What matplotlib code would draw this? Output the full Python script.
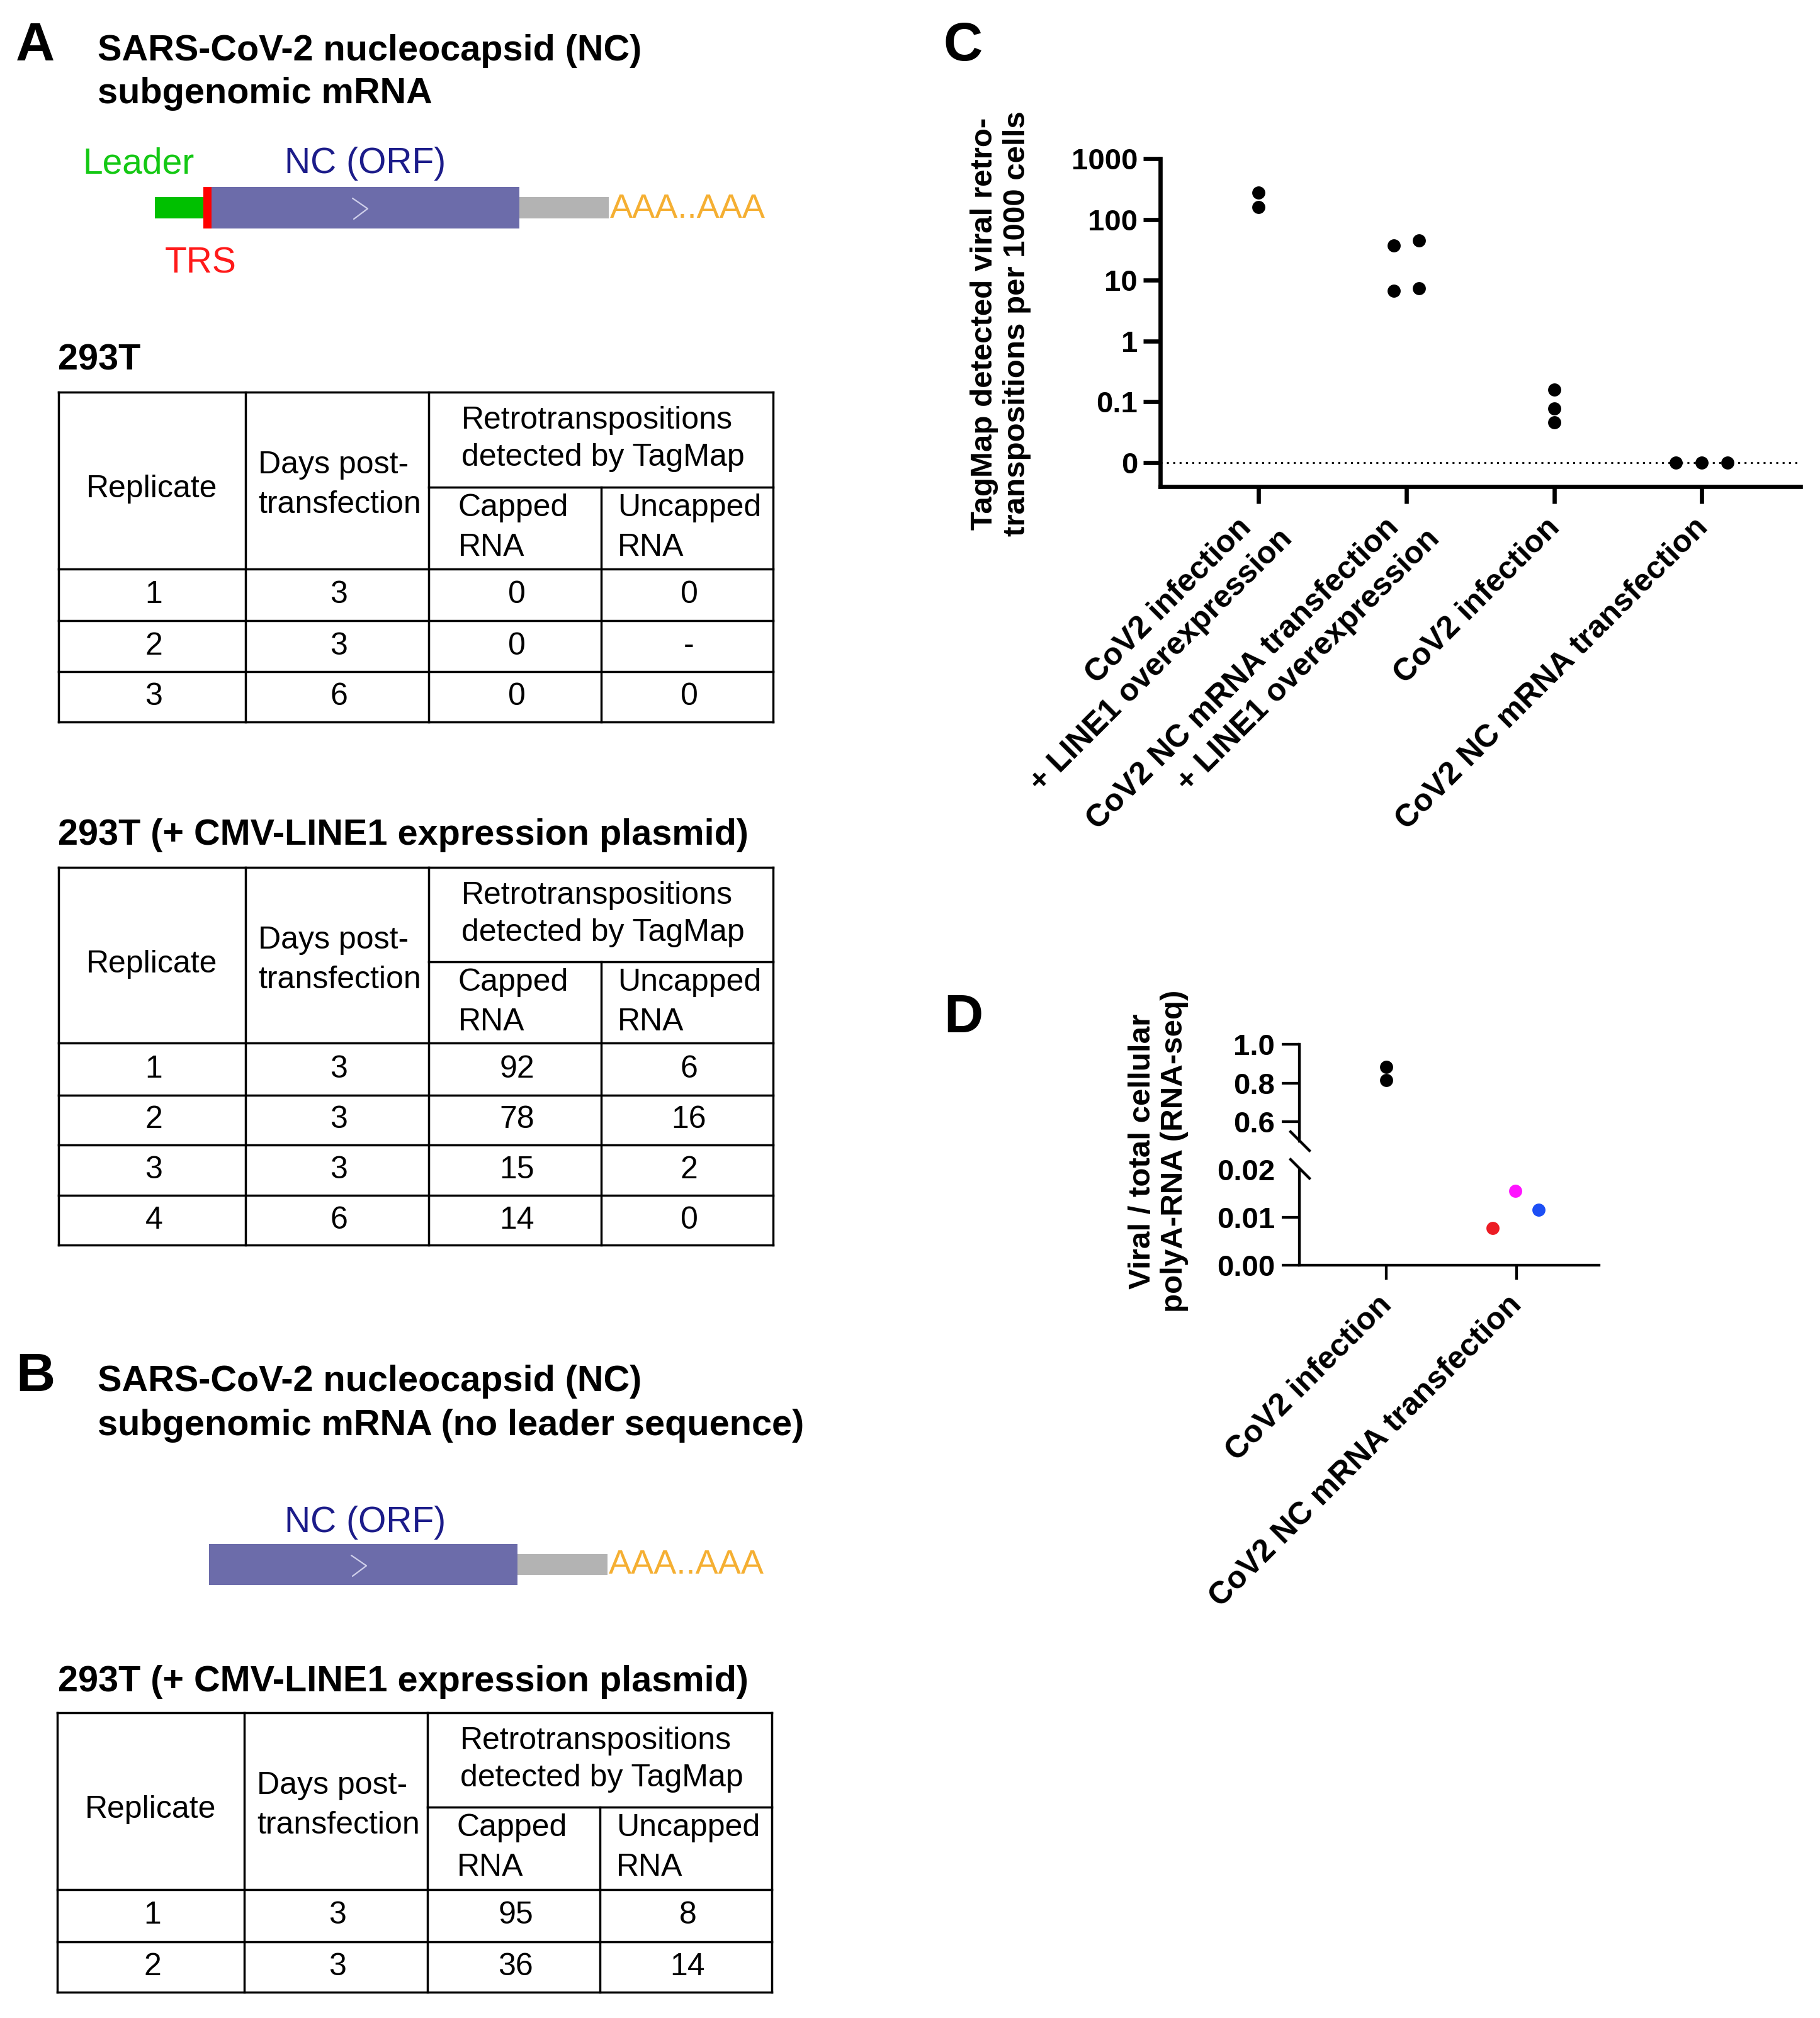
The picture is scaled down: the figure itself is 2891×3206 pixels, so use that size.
import numpy as np
import matplotlib
matplotlib.use('Agg')
import matplotlib.pyplot as plt
from matplotlib.patches import Rectangle
from matplotlib.lines import Line2D
from matplotlib.ticker import NullLocator
from matplotlib.transforms import offset_copy

plt.rcParams['font.family'] = ['Liberation Sans', 'DejaVu Sans']

# ------------------------------------------------------------------ data
# Panel A, table 1: 293T
a1_replicate = ['1', '2', '3']
a1_days = ['3', '3', '6']
a1_capped = ['0', '0', '0']
a1_uncapped = ['0', '-', '0']
# Panel A, table 2: 293T (+ CMV-LINE1 expression plasmid)
a2_replicate = ['1', '2', '3', '4']
a2_days = ['3', '3', '3', '6']
a2_capped = ['92', '78', '15', '14']
a2_uncapped = ['6', '16', '2', '0']
# Panel B table
b_replicate = ['1', '2']
b_days = ['3', '3']
b_capped = ['95', '36']
b_uncapped = ['8', '14']

# Panel C
c_categories = ["CoV2 infection\n+ LINE1 overexpression",
                "CoV2 NC mRNA transfection\n+ LINE1 overexpression",
                "CoV2 infection",
                "CoV2 NC mRNA transfection"]
c_values = [[276, 160], [37, 45, 6.7, 7.3], [0.158, 0.078, 0.046], [0, 0, 0]]
c_yticks = [1000, 100, 10, 1, 0.1, 0]
c_yticklabels = ['1000', '100', '10', '1', '0.1', '0']
c_ylabel = "TagMap detected viral retro-\ntranspositions per 1000 cells"

# Panel D
d_categories = ["CoV2 infection", "CoV2 NC mRNA transfection"]
d_values = [[0.884, 0.815], [0.0077, 0.0155, 0.0116]]
d_colors = [['black', 'black'], ['#ec1c24', '#ff14ff', '#1d4ff5']]
d_upper_ticks = [0.6, 0.8, 1.0]
d_upper_labels = ['0.6', '0.8', '1.0']
d_lower_ticks = [0.0, 0.01, 0.02]
d_lower_labels = ['0.00', '0.01', '0.02']
d_ylabel = "Viral / total cellular\npolyA-RNA (RNA-seq)"

# jitter of the dots inside a category (category units)
c_offsets = [[0, 0], [-0.085, 0.085, -0.085, 0.085], [0, 0, 0], [-0.175, 0, 0.175]]
d_offsets = [[0, 0], [-0.184, -0.01, 0.17]]

# ------------------------------------------------------------------ figure
W, H = 2891, 3206
fig = plt.figure(figsize=(W / 100, H / 100), dpi=100)
fig.patch.set_facecolor('white')


def rect(x0, y0, x1, y1):
    return [x0 / W, 1 - y1 / H, (x1 - x0) / W, (y1 - y0) / H]


# overlay axes in pixel coordinates (y downwards)
ax0 = fig.add_axes([0, 0, 1, 1])
ax0.set_xlim(0, W)
ax0.set_ylim(H, 0)
ax0.axis('off')
ax0.patch.set_alpha(0)

LETTER = 62
TITLE = 41.5
GENE = 41
TAB = 36
AX = 34
XLAB = 36
YLAB = 35.5

PURPLE = '#6c6caa'
GRAY = '#b3b3b3'
GREEN_BAR = '#00c000'
RED = '#ff0000'
NAVY = '#1c1c8a'
ORANGE = '#f5af32'
GREEN_TXT = '#14c814'


def txt(x, y, s, size, weight='normal', color='black', ha='left', **kw):
    ax0.text(x, y, s, fontsize=size, fontweight=weight, color=color,
             ha=ha, va='baseline', **kw)


def box(x0, y0, x1, y1, color):
    ax0.add_patch(Rectangle((x0, y0), x1 - x0, y1 - y0, facecolor=color,
                            edgecolor='none', zorder=2))


def chevron(x, y):
    ax0.plot([x, x + 24, x + 2], [y, y + 16.5, y + 33], color='#cfcfea',
             lw=1.6, zorder=3, solid_capstyle='round')


def draw_table(xs, top, split, hbot, row_lines, cols):
    lw = 2.5
    bottom = row_lines[-1]
    kw = dict(color='black', lw=lw, solid_capstyle='projecting', zorder=3)
    for y in [top, hbot] + row_lines:
        ax0.plot([xs[0], xs[4]], [y, y], **kw)
    ax0.plot([xs[2], xs[4]], [split, split], **kw)
    for x in [xs[0], xs[1], xs[2], xs[4]]:
        ax0.plot([x, x], [top, bottom], **kw)
    ax0.plot([xs[3], xs[3]], [split, bottom], **kw)
    # header
    txt((xs[0] + xs[1]) / 2, top + 167, "Replicate", TAB, ha='center')
    txt(xs[1] + 20, top + 129, "Days post-", TAB)
    txt(xs[1] + 20, top + 192, "transfection", TAB)
    txt(xs[2] + 52, top + 58, "Retrotranspositions", TAB)
    txt(xs[2] + 52, top + 117, "detected by TagMap", TAB)
    txt(xs[2] + 47, split + 46, "Capped", TAB)
    txt(xs[2] + 47, split + 109, "RNA", TAB)
    txt(xs[3] + 26, split + 46, "Uncapped", TAB)
    txt(xs[3] + 26, split + 109, "RNA", TAB)
    bounds = [hbot] + row_lines
    for i in range(len(row_lines)):
        yc = (bounds[i] + bounds[i + 1]) / 2 + 13
        for j, col in enumerate(cols):
            txt((xs[j] + xs[j + 1]) / 2 + 3, yc, col[i], TAB, ha='center')


# anchor (pixels right, pixels below the x axis line) of each line of a
# rotated category label, relative to its tick
LABEL_ANCHORS = {1: [(-14, 42)], 2: [(-35, 42), (30, 60)]}


def category_labels(ax, labels, anchors):
    for i, lab in enumerate(labels):
        lines = lab.split('\n')
        for line, (dx, dy) in zip(lines, anchors[len(lines)]):
            tr = offset_copy(ax.get_xaxis_transform(), fig=fig, x=dx, y=-dy,
                             units='dots')
            ax.text(i, 0, line, transform=tr, rotation=45, ha='right',
                    va='top', rotation_mode='anchor', fontsize=XLAB,
                    fontweight='bold', clip_on=False)


# ---------------- Panel A
txt(25, 96, "A", LETTER, 'bold')
txt(155, 96, "SARS-CoV-2 nucleocapsid (NC)", TITLE, 'bold')
txt(155, 164, "subgenomic mRNA", TITLE, 'bold')

box(246, 313, 323, 347, GREEN_BAR)
box(323, 297, 336, 363, RED)
box(336, 297, 825, 363, PURPLE)
box(825, 313, 967, 347, GRAY)
chevron(560, 315)
txt(131, 275, "Leader", GENE, color=GREEN_TXT)
txt(452, 275, "NC (ORF)", GENE, color=NAVY)
txt(969, 346, "AAA..AAA", 39, color=ORANGE)
txt(262, 433, "TRS", GENE, color='#ff1a1a')

txt(92, 587, "293T", TITLE, 'bold')
xs_tab = [93, 390, 681, 955, 1228]
draw_table(xs_tab, 623, 774, 904, [986, 1067, 1147],
           [a1_replicate, a1_days, a1_capped, a1_uncapped])

txt(92, 1342, "293T (+ CMV-LINE1 expression plasmid)", TITLE, 'bold')
draw_table(xs_tab, 1378, 1528, 1657, [1740, 1819, 1899, 1978],
           [a2_replicate, a2_days, a2_capped, a2_uncapped])

# ---------------- Panel B
txt(25, 2210, "B", LETTER, 'bold')
txt(155, 2210, "SARS-CoV-2 nucleocapsid (NC)", TITLE, 'bold')
txt(155, 2280, "subgenomic mRNA (no leader sequence)", TITLE, 'bold')
box(332, 2453, 822, 2518, PURPLE)
box(822, 2469, 965, 2502, GRAY)
chevron(558, 2471)
txt(452, 2434, "NC (ORF)", GENE, color=NAVY)
txt(967, 2500, "AAA..AAA", 39, color=ORANGE)

txt(92, 2687, "293T (+ CMV-LINE1 expression plasmid)", TITLE, 'bold')
xs_tab_b = [x - 2 for x in xs_tab]
draw_table(xs_tab_b, 2721, 2871, 3002, [3085, 3165],
           [b_replicate, b_days, b_capped, b_uncapped])

# ---------------- Panel C
txt(1499, 96, "C", LETTER, 'bold')
ax_c = fig.add_axes(rect(1843, 252, 2860, 773))
ZERO_POS = 0.01
ax_c.set_yscale('log')
ax_c.set_ylim(10 ** -2.394, 1000)
ax_c.set_xlim(-0.665, 3.668)
ax_c.axhline(ZERO_POS, color='black', lw=2.2, ls=(0, (1, 2.3)), zorder=2)
for i, vals in enumerate(c_values):
    xv = [i + o for o in c_offsets[i]]
    yv = [v if v > 0 else ZERO_POS for v in vals]
    ax_c.plot(xv, yv, 'o', ms=15, color='black', mec='none', zorder=4, clip_on=False)
ax_c.set_yticks([t if t > 0 else ZERO_POS for t in c_yticks])
ax_c.set_yticklabels(c_yticklabels)
ax_c.yaxis.set_minor_locator(NullLocator())
ax_c.set_xticks(range(len(c_categories)))
ax_c.tick_params(axis='x', labelbottom=False)
for s in ['top', 'right']:
    ax_c.spines[s].set_visible(False)
for s in ['left', 'bottom']:
    ax_c.spines[s].set_linewidth(4.8)
    ax_c.spines[s].set_capstyle('projecting')
ax_c.tick_params(axis='both', width=4.8, length=19.4, labelsize=AX)
ax_c.tick_params(axis='y', pad=6.5)
for lbl in ax_c.get_yticklabels():
    lbl.set_fontweight('bold')
category_labels(ax_c, c_categories, LABEL_ANCHORS)
ax0.text(1590, 514, c_ylabel, rotation=90, ha='center', va='center',
         fontsize=YLAB, fontweight='bold', multialignment='center')

# ---------------- Panel D
txt(1499, 1640, "D", LETTER, 'bold')
ax_dt = fig.add_axes(rect(2064, 1659, 2540, 1813))
ax_db = fig.add_axes(rect(2064, 1858, 2540, 2010))
ax_dt.set_ylim(0.5, 1.0)
ax_db.set_ylim(0.0, 0.02)
for a in (ax_dt, ax_db):
    a.set_xlim(-0.667, 1.633)
    a.patch.set_alpha(0)
    for s in ['top', 'right']:
        a.spines[s].set_visible(False)
    for s in ['left', 'bottom']:
        a.spines[s].set_linewidth(3.1)
        a.spines[s].set_capstyle('projecting')
    a.tick_params(axis='y', width=3.1, length=20, labelsize=AX, pad=8)
    a.tick_params(axis='x', width=3.1, length=16.5, labelsize=AX, pad=6)
ax_dt.spines['bottom'].set_visible(False)
ax_dt.set_xticks([])
ax_dt.set_yticks(d_upper_ticks)
ax_dt.set_yticklabels(d_upper_labels)
ax_db.set_yticks(d_lower_ticks)
ax_db.set_yticklabels(d_lower_labels)
ax_db.yaxis.get_major_ticks()[2].tick1line.set_visible(False)
ax_db.set_xticks(range(len(d_categories)))
ax_db.tick_params(axis='x', labelbottom=False)
for a in (ax_dt, ax_db):
    for lbl in a.get_yticklabels():
        lbl.set_fontweight('bold')
category_labels(ax_db, d_categories, {1: [(-15, 40)]})
for i, vals in enumerate(d_values):
    for v, o, c in zip(vals, d_offsets[i], d_colors[i]):
        lo, hi = ax_dt.get_ylim()
        target = ax_dt if lo <= v <= hi else ax_db
        target.plot([i + o], [v], 'o', ms=15, color=c, mec='none', zorder=4, clip_on=False)

# axis break marks
for (x0, y0, x1, y1) in [(2050, 1798, 2080, 1828), (2050, 1842, 2080, 1872)]:
    fig.add_artist(Line2D([x0 / W, x1 / W], [1 - y0 / H, 1 - y1 / H],
                          transform=fig.transFigure, color='black', lw=3.1))
ax0.text(1840, 1829, d_ylabel, rotation=90, ha='center', va='center',
         fontsize=YLAB, fontweight='bold', multialignment='center')

fig.savefig('out.png', dpi=100, facecolor='white')
